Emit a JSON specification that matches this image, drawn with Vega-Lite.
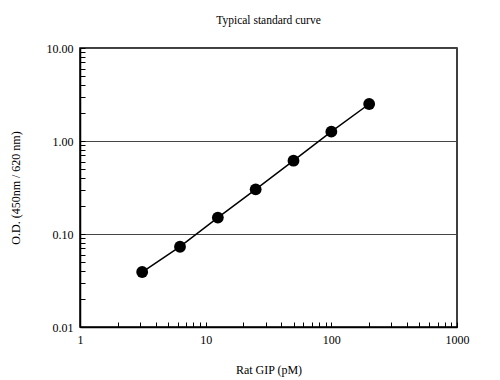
{
  "$schema": "https://vega.github.io/schema/vega-lite/v6.json",
  "width": 377,
  "height": 279,
  "autosize": "none",
  "padding": {"left": 80, "top": 48, "right": 43, "bottom": 53},
  "background": "white",
  "title": {"text": "Typical standard curve", "font": "Liberation Serif", "fontSize": 11.5, "fontWeight": "normal", "color": "black", "offset": 16},
  "data": {"values": [
    {"conc": 3.125, "od": 0.039},
    {"conc": 6.25, "od": 0.073},
    {"conc": 12.5, "od": 0.150},
    {"conc": 25, "od": 0.302},
    {"conc": 50, "od": 0.614},
    {"conc": 100, "od": 1.26},
    {"conc": 200, "od": 2.50}
  ]},
  "config": {
    "view": {"stroke": "black", "strokeWidth": 1.5},
    "axis": {
      "labelFont": "Liberation Serif",
      "titleFont": "Liberation Serif",
      "labelFontSize": 12,
      "titleFontSize": 12,
      "titleFontWeight": "normal",
      "labelColor": "black",
      "titleColor": "black",
      "domainColor": "black",
      "domainWidth": 1.5,
      "tickColor": "black",
      "tickSize": -5,
      "tickWidth": 1,
      "labelFlush": false,
      "labelOverlap": false
    }
  },
  "encoding": {
    "x": {
      "field": "conc", "type": "quantitative",
      "scale": {"type": "log", "domain": [1, 1000], "nice": false},
      "axis": {
        "title": "Rat GIP  (pM)",
        "values": [1,2,3,4,5,6,7,8,9,10,20,30,40,50,60,70,80,90,100,200,300,400,500,600,700,800,900,1000],
        "labelExpr": "abs(log(datum.value)/LN10 - round(log(datum.value)/LN10)) < 0.000001 ? format(datum.value, 'd') : ''",
        "grid": false,
        "labelPadding": 12,
        "titlePadding": 19
      }
    },
    "y": {
      "field": "od", "type": "quantitative",
      "scale": {"type": "log", "domain": [0.01, 10], "nice": false},
      "axis": {
        "title": "O.D. (450nm / 620 nm)",
        "values": [0.01,0.02,0.03,0.04,0.05,0.06,0.07,0.08,0.09,0.1,0.2,0.3,0.4,0.5,0.6,0.7,0.8,0.9,1,2,3,4,5,6,7,8,9,10],
        "labelExpr": "abs(log(datum.value)/LN10 - round(log(datum.value)/LN10)) < 0.000001 ? format(datum.value, '.2f') : ''",
        "grid": true,
        "gridColor": "#444444",
        "gridWidth": 1,
        "gridOpacity": {"condition": {"test": "abs(log(datum.value)/LN10 - round(log(datum.value)/LN10)) < 0.000001", "value": 1}, "value": 0},
        "labelPadding": 12,
        "titleX": -65,
        "titleBaseline": "middle"
      }
    }
  },
  "layer": [
    {"mark": {"type": "line", "color": "black", "strokeWidth": 1.5}},
    {"mark": {"type": "point", "filled": true, "color": "black", "opacity": 1, "size": 140}}
  ]
}
